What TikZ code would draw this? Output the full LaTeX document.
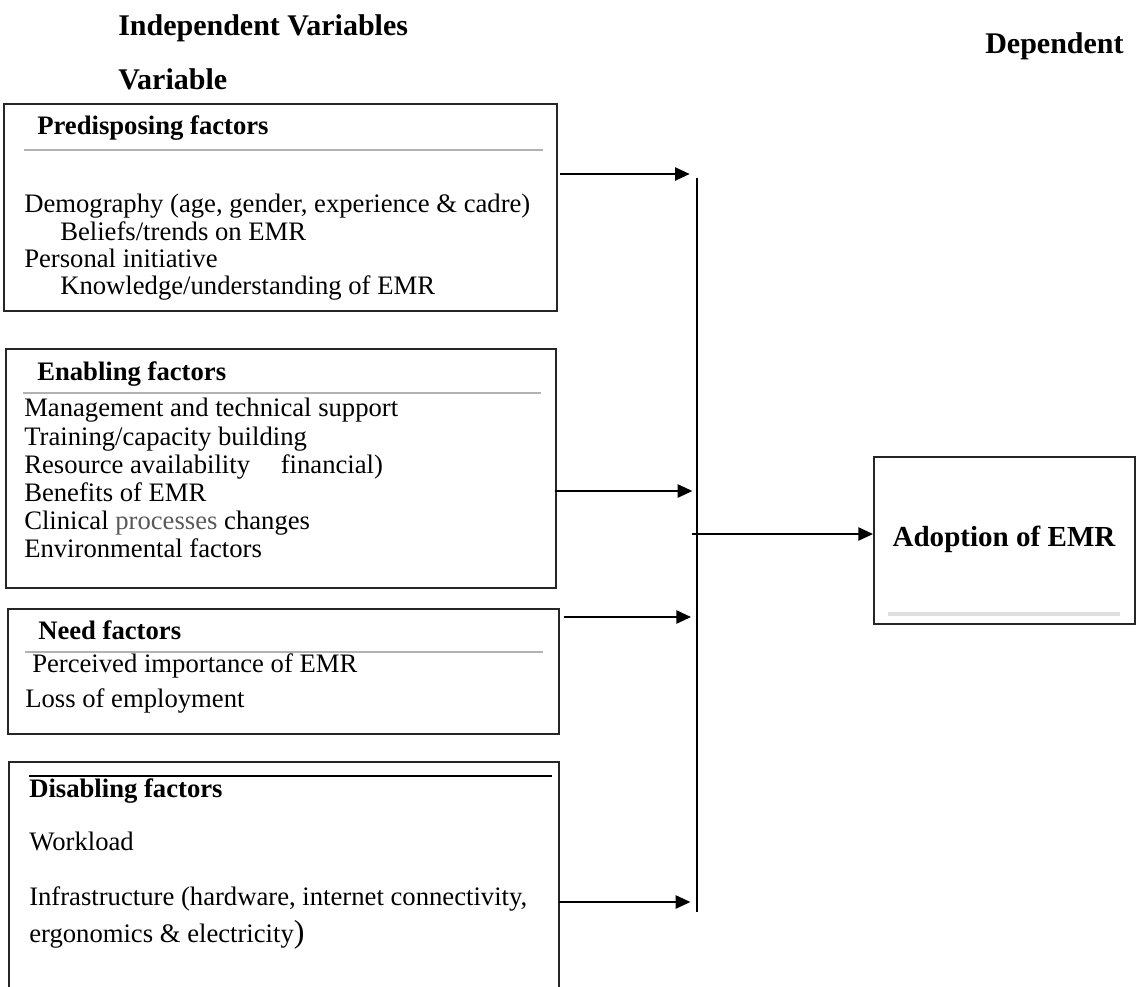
\documentclass[tikz,border=0pt]{standalone}
\usepackage{fontspec}
\setmainfont{Liberation Serif}
\usetikzlibrary{arrows.meta}
\begin{document}
\begin{tikzpicture}[x=0.75pt,y=-0.75pt,
  boxline/.style={draw=black!85, line width=1.2pt, rectangle, inner sep=0pt, anchor=north west},
  sepline/.style={draw=gray!60, line width=2pt},
  arr/.style={line width=1.1pt, -{Triangle[length=11pt,width=10pt]}},
  bd/.style={anchor=base west, inner sep=0pt, font=\fontsize{20}{24}\selectfont},
  hd/.style={anchor=base west, inner sep=0pt, font=\fontsize{20}{24}\selectfont\bfseries},
  ttl/.style={anchor=base west, inner sep=0pt, font=\fontsize{22.5}{27}\selectfont\bfseries}]
\useasboundingbox (0,0) rectangle (1139,986);

% titles
\node[ttl] (tind) at (118,35) {Independent Variables};
\node[ttl] (tvar) at (118,89) {Variable};
\node[ttl] (tdep) at (985,53) {Dependent};

% Predisposing box
\node[boxline, minimum width={553*0.75pt}, minimum height={207*0.75pt}] (pre) at (3,103) {};
\node[hd] (preh) at (37,134) {Predisposing factors};
\draw[sepline] (24,150) -- (543,150);
\node[bd] (pre1) at (24,212) {Demography (age, gender, experience \& cadre)};
\node[bd] (pre2) at (60,240) {Beliefs/trends on EMR};
\node[bd] (pre3) at (24,267) {Personal initiative};
\node[bd] (pre4) at (60,294) {Knowledge/understanding of EMR};

% Enabling box
\node[boxline, minimum width={550*0.75pt}, minimum height={239*0.75pt}] (ena) at (5,348) {};
\node[hd] (enah) at (37,380) {Enabling factors};
\draw[sepline] (23,393) -- (541,393);
\node[bd] (ena1) at (24,416) {Management and technical support};
\node[bd] (ena2) at (24,445) {Training/capacity building};
\node[bd] (ena3) at (24,473) {Resource availability\hspace{18pt} financial)};
\node[bd] (ena4) at (24,501) {Benefits of EMR};
\node[bd] (ena5) at (24,529) {Clinical {\color{black!65}processes} changes};
\node[bd] (ena6) at (24,557) {Environmental factors};

% Need box
\node[boxline, minimum width={551*0.75pt}, minimum height={125*0.75pt}] (need) at (7,608) {};
\node[hd] (needh) at (38,639) {Need factors};
\draw[sepline] (25,652) -- (543,652);
\node[bd] (need1) at (32,672) {Perceived importance of EMR};
\node[bd] (need2) at (25,707) {Loss of employment};

% Disabling box (open at the bottom)
\draw[draw=black!85, line width=1.2pt] (9,990) -- (9,762) -- (559,762) -- (559,990);
\coordinate (dis) at (559,902);
\draw[black, line width=1.2pt] (29,776) -- (552,776);
\node[hd] (dish) at (29,797) {Disabling factors};
\node[bd] (dis1) at (29,850) {Workload};
\node[bd] (dis2) at (29,905) {Infrastructure (hardware, internet connectivity,};
\node[bd] (dis3) at (29,942) {ergonomics \& electricity{\fontsize{24}{28}\selectfont)}};

% Adoption box
\node[boxline, minimum width={261*0.75pt}, minimum height={167*0.75pt}] (adopt) at (873,456) {};
\node[anchor=base, inner sep=0pt, font=\fontsize{21.8}{26}\selectfont\bfseries] (adoptt) at (1004,546) {Adoption of EMR};
\draw[draw=gray!25, line width=2.5pt] (888,614) -- (1120,614);

% bus
\coordinate (bt) at (697,178);
\coordinate (bb) at (697,912);
\draw[line width=1.3pt] (bt) -- (bb);

% arrows into the bus
\coordinate (y1) at (0,174);
\coordinate (y2) at (0,491);
\coordinate (y3) at (0,617);
\coordinate (y4) at (0,902);
\coordinate (yo) at (0,534);
\draw[arr] ([xshift=1.5pt]pre.east |- y1) -- ([xshift=-5.5pt]bt |- y1);
\draw[arr] ([xshift=-1.5pt]ena.east |- y2) -- ([xshift=-3.5pt]bt |- y2);
\draw[arr] ([xshift=3pt]need.east |- y3) -- ([xshift=-4.5pt]bt |- y3);
\draw[arr] (dis) -- ([xshift=-5pt]bt |- y4);
% output arrow
\draw[arr] ([xshift=-3.5pt]bt |- yo) -- (adopt.west |- yo);
\end{tikzpicture}
\end{document}
